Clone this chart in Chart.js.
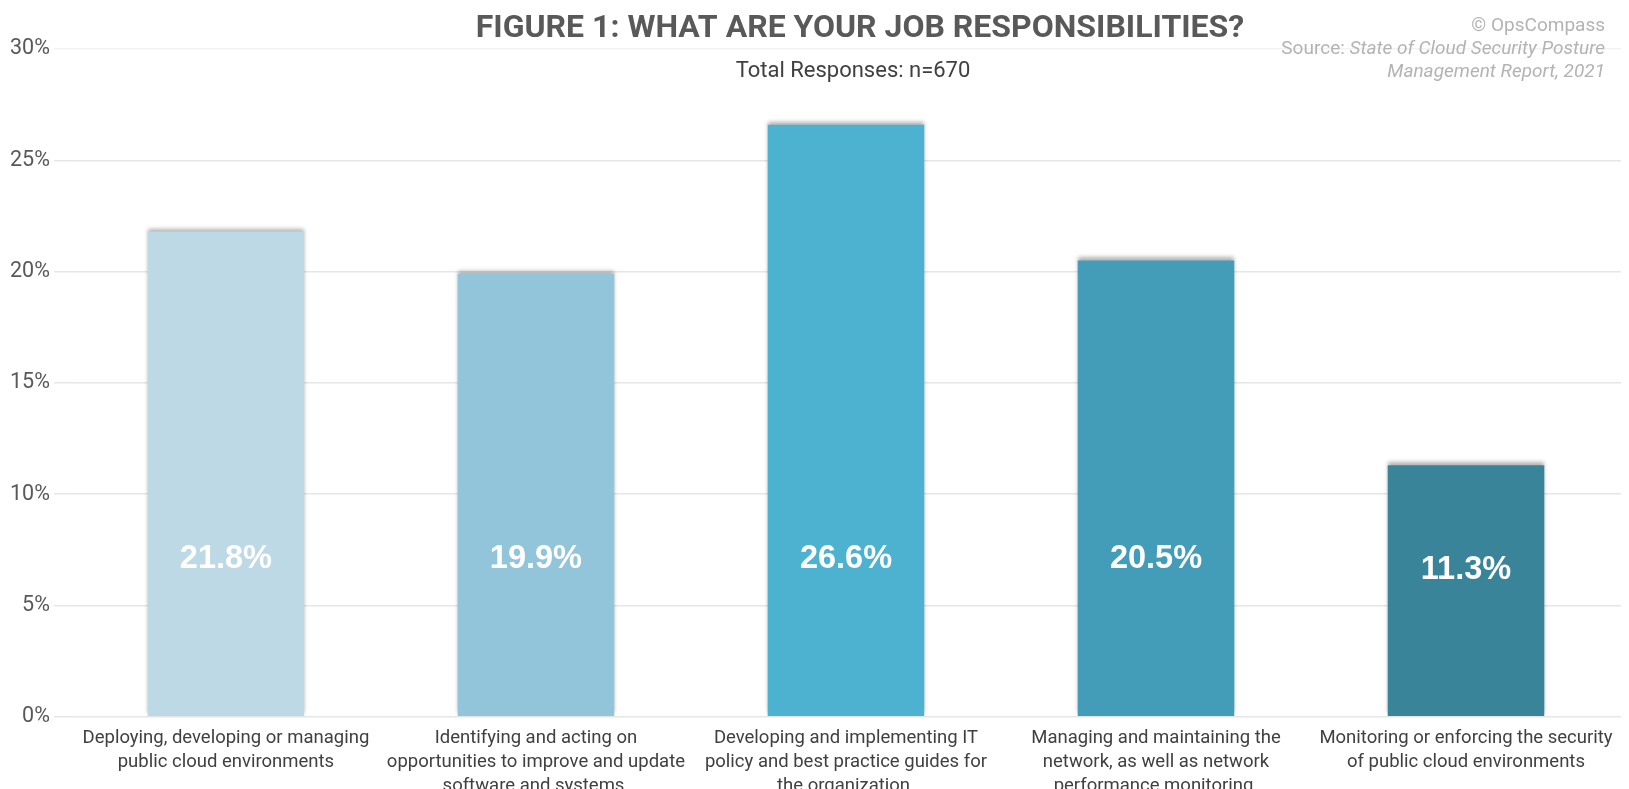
<!DOCTYPE html>
<html>
<head>
<meta charset="utf-8">
<script src="https://cdn.jsdelivr.net/npm/chart.js@4/dist/chart.umd.min.js"></script>
<style>
  html, body { margin: 0; padding: 0; background: #ffffff; }
  #wrap { width: 1629px; height: 789px; position: relative; }
</style>
</head>
<body>
<div id="wrap"><canvas id="c"></canvas></div>
<script>
// Survey categories (multi-line axis labels)
const categories = [
  ['Deploying, developing or managing', 'public cloud environments'],
  ['Identifying and acting on', 'opportunities to improve and update', 'software and systems.'],
  ['Developing and implementing IT', 'policy and best practice guides for', 'the organization.'],
  ['Managing and maintaining the', 'network, as well as network', 'performance monitoring.'],
  ['Monitoring or enforcing the security', 'of public cloud environments']
];
// Share of respondents, percent
const shares = [21.8, 19.9, 26.6, 20.5, 11.3];
const barColors = ['#BDD9E6', '#93C5DA', '#4DB1D0', '#449DB8', '#3A8499'];
const yTicks = [0, 5, 10, 15, 20, 25, 30];

const titleText = 'FIGURE 1: WHAT ARE YOUR JOB RESPONSIBILITIES?';
const subtitleText = 'Total Responses: n=670';
const creditText = '\u00A9 OpsCompass';
const sourcePrefix = 'Source: ';
const sourceLine1 = 'State of Cloud Security Posture';
const sourceLine2 = 'Management Report, 2021';

// Soft drop shadow behind the bars
const barShadow = {
  id: 'barShadow',
  beforeDatasetsDraw(chart) {
    const ctx = chart.ctx;
    ctx.save();
    ctx.shadowColor = 'rgba(0,0,0,0.30)';
    ctx.shadowBlur = 4;
    ctx.shadowOffsetX = 0;
    ctx.shadowOffsetY = -3;
  },
  afterDatasetsDraw(chart) {
    chart.ctx.restore();
  }
};

// White value labels inside the bars
const valueLabels = {
  id: 'valueLabels',
  afterDatasetsDraw(chart) {
    const ctx = chart.ctx;
    const meta = chart.getDatasetMeta(0);
    const y = chart.scales.y;
    ctx.save();
    ctx.fillStyle = '#ffffff';
    ctx.font = 'bold 32.5px "Liberation Sans", Arial, sans-serif';
    ctx.textAlign = 'center';
    ctx.textBaseline = 'middle';
    meta.data.forEach((bar, i) => {
      const v = shares[i];
      const anchor = Math.min(7.1, v * 0.585);
      ctx.fillText(v.toFixed(1) + '%', bar.x, y.getPixelForValue(anchor));
    });
    ctx.restore();
  }
};

// Heading, subheading and source note
const headings = {
  id: 'headings',
  afterDraw(chart) {
    const ctx = chart.ctx;
    ctx.save();
    ctx.textBaseline = 'middle';
    ctx.textAlign = 'center';
    ctx.fillStyle = '#595959';
    ctx.font = 'bold 32px Roboto, sans-serif';
    ctx.fillText(titleText, 860, 29);
    ctx.fillStyle = '#404040';
    ctx.font = '22px Roboto, sans-serif';
    ctx.fillText(subtitleText, 853, 71);

    const right = 1605;
    ctx.textAlign = 'right';
    ctx.fillStyle = '#b3b3b3';
    ctx.font = '19px Roboto, sans-serif';
    ctx.fillText(creditText, right, 26);
    ctx.font = 'italic 19px Roboto, sans-serif';
    ctx.fillText(sourceLine1, right, 49);
    const w1 = ctx.measureText(sourceLine1).width;
    ctx.font = '19px Roboto, sans-serif';
    ctx.fillText(sourcePrefix, right - w1, 49);
    ctx.font = 'italic 19px Roboto, sans-serif';
    ctx.fillText(sourceLine2, right, 72);
    ctx.restore();
  }
};

new Chart(document.getElementById('c'), {
  type: 'bar',
  data: {
    labels: categories,
    datasets: [{
      data: shares,
      backgroundColor: barColors,
      borderWidth: 0,
      categoryPercentage: 1.0,
      barPercentage: 0.505
    }]
  },
  options: {
    responsive: true,
    maintainAspectRatio: false,
    animation: false,
    layout: { padding: { top: 49, left: 6, right: 8, bottom: -11 } },
    plugins: {
      legend: { display: false },
      tooltip: { enabled: false },
      title: { display: false }
    },
    scales: {
      x: {
        grid: { display: false },
        border: { display: false },
        ticks: {
          color: '#404040',
          padding: 1,
          maxRotation: 0,
          autoSkip: false,
          font: { family: 'Roboto, sans-serif', size: 18.5, lineHeight: 1.32 }
        }
      },
      y: {
        min: yTicks[0],
        max: yTicks[yTicks.length - 1],
        afterBuildTicks(scale) {
          scale.ticks = yTicks.map(v => ({ value: v }));
        },
        border: { display: false },
        grid: {
          color: ctx => (ctx.tick && ctx.tick.value === 30 ? '#f3f3f3' : '#e6e6e6'),
          lineWidth: 1.5,
          drawTicks: true,
          tickLength: 17
        },
        ticks: {
          color: '#595959',
          padding: 4,
          font: { family: 'Roboto, sans-serif', size: 21.5 },
          callback: v => v + '%'
        }
      }
    }
  },
  plugins: [barShadow, valueLabels, headings]
});
</script>
</body>
</html>
